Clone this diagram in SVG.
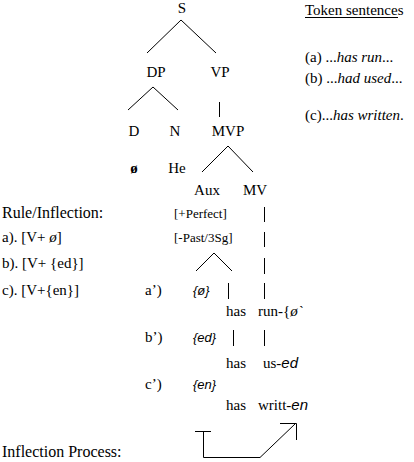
<svg xmlns="http://www.w3.org/2000/svg" width="414" height="462" viewBox="0 0 414 462">
<style>
text{font-family:"Liberation Serif","Times New Roman",serif;font-size:15px;fill:#000}
.lg{font-size:16px}
.sm{font-size:13px}
.it{font-style:italic}
.si{font-family:"Liberation Sans",Arial,sans-serif;font-style:italic;font-size:13px}
.c{text-anchor:middle}
line,path{stroke:#000;stroke-width:1;fill:none}
</style>
<rect width="414" height="462" fill="#fff"/>
<g id="connectors">
<line x1="181" y1="20" x2="147" y2="53"/>
<line x1="181" y1="20" x2="216" y2="53"/>
<line x1="153" y1="87" x2="128" y2="110"/>
<line x1="153" y1="87" x2="178" y2="110"/>
<line x1="219.5" y1="102" x2="219.5" y2="117"/>
<line x1="228" y1="146" x2="202" y2="172"/>
<line x1="228" y1="146" x2="253" y2="172"/>
<line x1="214" y1="253" x2="196" y2="271"/>
<line x1="214" y1="253" x2="232" y2="271"/>
<line x1="264.5" y1="207" x2="264.5" y2="222"/>
<line x1="264.5" y1="232" x2="264.5" y2="247"/>
<line x1="264.5" y1="258" x2="264.5" y2="274"/>
<line x1="264.5" y1="283" x2="264.5" y2="299"/>
<line x1="264.5" y1="330" x2="264.5" y2="346"/>
<line x1="228.5" y1="283" x2="228.5" y2="299"/>
<line x1="233.5" y1="330" x2="233.5" y2="346"/>
<path d="M195 431.5H211M203.5 431.5V457.5H260L295 424"/>
<path d="M280 423.5H296.5V440"/>
</g>
<g id="S"><text class="c" x="182" y="13">S</text></g>
<g id="DP"><text class="c" x="156" y="77">DP</text></g>
<g id="VP"><text class="c" x="220" y="77">VP</text></g>
<g id="D"><text class="c" x="134" y="136">D</text></g>
<g id="N"><text class="c" x="175" y="136">N</text></g>
<g id="MVP"><text class="c" x="228" y="136">MVP</text></g>
<g id="null"><text class="c" x="134" y="173" font-weight="bold">ø</text></g>
<g id="He"><text class="c" x="177" y="173">He</text></g>
<g id="Aux"><text class="c" x="207" y="195">Aux</text></g>
<g id="MV"><text class="c" x="255" y="195">MV</text></g>
<g id="features">
<text class="sm" x="174" y="218">[+Perfect]</text>
<text class="sm" x="174" y="242">[-Past/3Sg]</text>
</g>
<g id="rules">
<text class="lg" x="2" y="218">Rule/Inflection:</text>
<text x="2" y="242">a). [V+ <tspan class="it">ø</tspan>]</text>
<text x="2" y="268">b). [V+ {ed}]</text>
<text x="2" y="295">c). [V+{en}]</text>
</g>
<g id="row-a">
<text x="145" y="295">a’)</text>
<text class="si" x="193" y="295">{ø}</text>
<text x="226" y="316">has</text>
<text x="258" y="316">run-{<tspan class="it">ø`</tspan></text>
</g>
<g id="row-b">
<text x="145" y="342">b’)</text>
<text class="si" x="193" y="342">{ed}</text>
<text x="226" y="368">has</text>
<text x="263" y="368">us-<tspan class="si" style="font-size:15px">ed</tspan></text>
</g>
<g id="row-c">
<text x="145" y="389">c’)</text>
<text class="si" x="193" y="389">{en}</text>
<text x="226" y="410">has</text>
<text x="258" y="410">writt-<tspan class="si" style="font-size:15px">en</tspan></text>
</g>
<g id="process"><text class="lg" x="2" y="457">Inflection Process:</text></g>
<g id="tokens">
<text x="305" y="15">Token sentences</text>
<line x1="305" y1="17.5" x2="398" y2="17.5"/>
<text x="305" y="62">(a) ...<tspan class="it">has run</tspan>...</text>
<text x="305" y="83">(b) ...<tspan class="it">had used</tspan>...</text>
<text x="305" y="120">(c)...<tspan class="it">has written</tspan>.</text>
</g>
</svg>
